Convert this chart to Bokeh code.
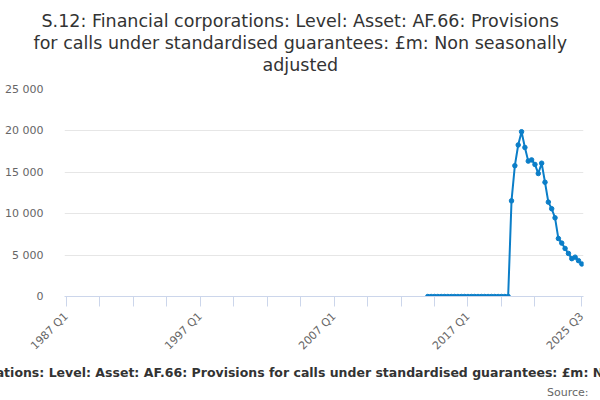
import math
from bokeh.plotting import figure
from bokeh.models import Range1d, FixedTicker, Title, ColumnDataSource
from bokeh.embed import file_html
from bokeh.resources import INLINE

# ---- data ----
start_year = 1987
n_quarters = 155  # 1987 Q1 .. 2025 Q3
quarters = [f"{start_year + i // 4} Q{i % 4 + 1}" for i in range(n_quarters)]

first_index = 108  # 2014 Q1
values = [0] * 25 + [
    11550, 15800, 18300, 19900, 18000, 16350, 16500, 15950, 14850, 16100,
    13800, 11400, 10600, 9500, 7000, 6450, 5800, 5200, 4570, 4750, 4330, 3930,
]
x_idx = list(range(first_index, first_index + len(values)))
x_labels = [quarters[i] for i in x_idx]

y_ticks = [0, 5000, 10000, 15000, 20000, 25000]
y_tick_labels = ["0", "5 000", "10 000", "15 000", "20 000", "25 000"]
x_ticks = list(range(0, 141, 10)) + [154]
x_labelled = {0: "1987 Q1", 40: "1997 Q1", 80: "2007 Q1", 120: "2017 Q1", 154: "2025 Q3"}

title_lines = [
    "S.12: Financial corporations: Level: Asset: AF.66: Provisions",
    "for calls under standardised guarantees: £m: Non seasonally",
    "adjusted",
]
axis_title = ("S.12: Financial corporations: Level: Asset: AF.66: Provisions for calls "
              "under standardised guarantees: £m: Non seasonally adjusted")
source_text = "Source:"

FONT = "DejaVu Sans"
LINE = "#0b7ec8"

p = figure(width=600, height=400, output_backend="svg", toolbar_location=None,
           title=None,
           x_range=Range1d(-0.5, n_quarters - 0.5), y_range=Range1d(0, 25000))
p.min_border_left = 64
p.min_border_right = 17
p.min_border_top = 89
p.min_border_bottom = 103
p.outline_line_color = None
p.background_fill_color = "white"
p.border_fill_color = "white"

# grid
p.xgrid.grid_line_color = None
p.ygrid.grid_line_color = "#e6e6e6"
p.ygrid.ticker = FixedTicker(ticks=y_ticks)

# y axis
p.yaxis.ticker = FixedTicker(ticks=y_ticks)
p.yaxis.major_label_overrides = {t: l for t, l in zip(y_ticks, y_tick_labels)}
p.yaxis.axis_line_color = None
p.yaxis.major_tick_line_color = None
p.yaxis.minor_tick_line_color = None
p.yaxis.major_label_standoff = 15
p.yaxis.major_label_text_font = FONT
p.yaxis.major_label_text_font_size = "11px"
p.yaxis.major_label_text_color = "#666666"

# x axis
p.xaxis.ticker = FixedTicker(ticks=x_ticks)
p.xaxis.major_label_overrides = {t: x_labelled.get(t, "") for t in x_ticks}
p.xaxis.axis_line_color = "#ccd6eb"
p.xaxis.major_tick_line_color = "#ccd6eb"
p.xaxis.major_tick_in = 0
p.xaxis.major_tick_out = 10
p.xaxis.minor_tick_line_color = None
p.xaxis.major_label_orientation = math.pi / 4
p.xaxis.major_label_standoff = 8
p.xaxis.major_label_text_font = FONT
p.xaxis.major_label_text_font_size = "11px"
p.xaxis.major_label_text_color = "#666666"

src = ColumnDataSource(data=dict(x=x_idx, y=values, q=x_labels))
p.line("x", "y", source=src, line_color=LINE, line_width=2)
p.scatter("x", "y", source=src, size=4.5, fill_color=LINE, line_color=LINE)

# spacer between the title block and the plot area
p.add_layout(Title(text=" ", text_font=FONT, text_font_size="11px",
                   text_line_height=1.0, standoff=0), "above")

# title lines, each centred on the chart (x ~ 299.5); offsets relative to frame left
title_offsets = [-23, -31, 198]
for line, off in reversed(list(zip(title_lines, title_offsets))):
    p.add_layout(Title(text=line, align="left", offset=off, text_font=FONT,
                       text_font_size="17.5px", text_font_style="normal",
                       text_color="#333333", text_line_height=0.8, standoff=0),
                 "above")

axis_t = Title(text=axis_title, align="left", offset=-223, text_font=FONT,
               text_font_size="12.5px", text_font_style="bold", text_color="#333333",
               standoff=4)
p.add_layout(axis_t, "below")
src_t = Title(text=source_text, align="right", offset=-5, text_font=FONT,
              text_font_size="11px", text_font_style="normal", text_color="#666666",
              standoff=4)
p.add_layout(src_t, "below")

open("out.html", "w").write(file_html(p, INLINE))
